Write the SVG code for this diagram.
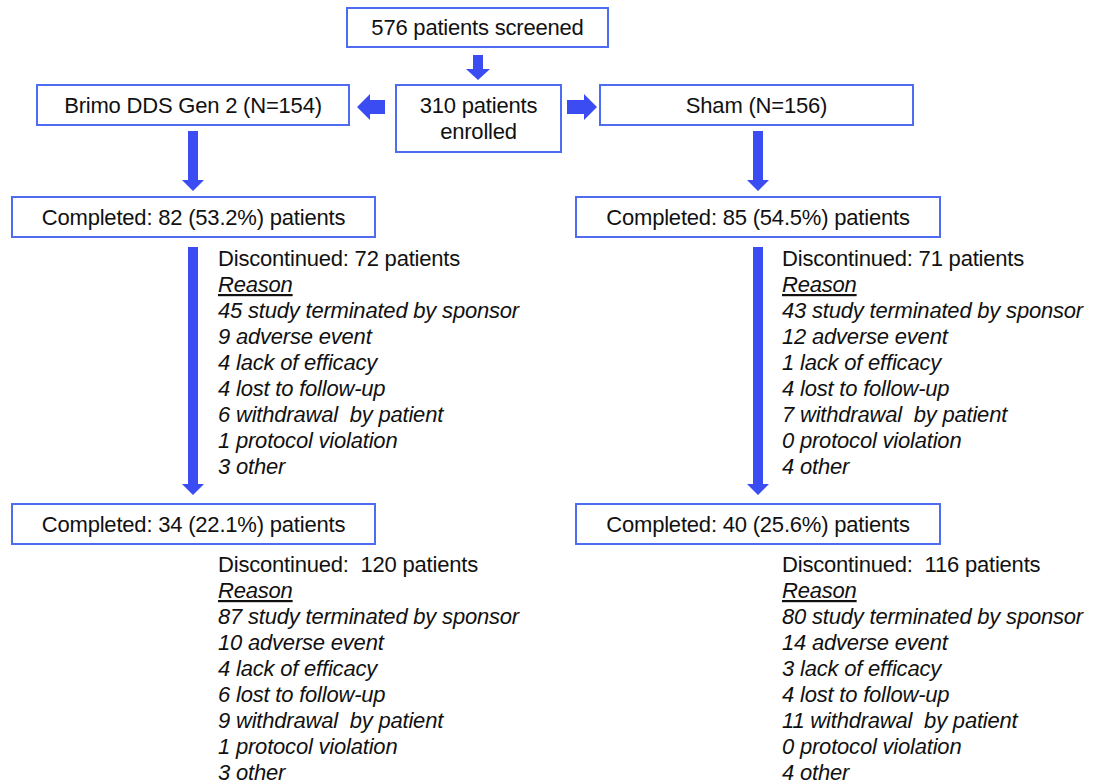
<svg xmlns="http://www.w3.org/2000/svg" width="1105" height="783" viewBox="0 0 1105 783">
<style>
.box{fill:#fff;stroke:#4d6cf2;stroke-width:2}
.t{font-family:"Liberation Sans",Arial,sans-serif;font-size:22px;letter-spacing:-0.2px;fill:#111}
.c{text-anchor:middle}
.i{font-style:italic}
.u{text-decoration:underline}
.arr{fill:#3b4cf3}
</style>
<rect width="1105" height="783" fill="#fff"/>
<g id="connectors">
<path class="arr" d="M473,55 H483 V69 H490 L478,80 L466,69 H473 Z"/>
<path class="arr" d="M385,100 V114 H370 V120 L357,107 L370,94 V100 Z"/>
<path class="arr" d="M567,100 V114 H584 V120 L597,107 L584,94 V100 Z"/>
<path class="arr" d="M188,131 H198 V180 H204 L193,191 L182,180 H188 Z"/>
<path class="arr" d="M753,131 H763 V180 H769 L758,191 L747,180 H753 Z"/>
<path class="arr" d="M188,247 H198 V484 H204 L193,495 L182,484 H188 Z"/>
<path class="arr" d="M753,247 H763 V484 H769 L758,495 L747,484 H753 Z"/>
</g>
<g id="screened">
<rect class="box" x="347" y="8" width="261" height="39"/>
<text class="t c" x="477.5" y="35">576 patients screened</text>
</g>
<g id="brimo">
<rect class="box" x="37" y="85" width="312" height="40"/>
<text class="t c" x="193" y="113">Brimo DDS Gen 2 (N=154)</text>
</g>
<g id="enrolled">
<rect class="box" x="396" y="85" width="165" height="67"/>
<text class="t c" x="478.5" y="113">310 patients</text>
<text class="t c" x="478.5" y="139">enrolled</text>
</g>
<g id="sham">
<rect class="box" x="600" y="85" width="313" height="40"/>
<text class="t c" x="756.5" y="113">Sham (N=156)</text>
</g>
<g id="completed1-brimo">
<rect class="box" x="12" y="197" width="363" height="40"/>
<text class="t c" x="193.5" y="225">Completed: 82 (53.2%) patients</text>
</g>
<g id="completed1-sham">
<rect class="box" x="576" y="197" width="364" height="40"/>
<text class="t c" x="758" y="225">Completed: 85 (54.5%) patients</text>
</g>
<g id="discontinued1-brimo">
<text class="t" x="218" y="266">Discontinued: 72 patients</text>
<text class="t i u" x="218" y="292">Reason</text>
<text class="t i" x="218" y="318">45 study terminated by sponsor</text>
<text class="t i" x="218" y="344">9 adverse event</text>
<text class="t i" x="218" y="370">4 lack of efficacy</text>
<text class="t i" x="218" y="396">4 lost to follow-up</text>
<text class="t i" x="218" y="422" xml:space="preserve">6 withdrawal  by patient</text>
<text class="t i" x="218" y="448">1 protocol violation</text>
<text class="t i" x="218" y="474">3 other</text>
</g>
<g id="discontinued1-sham">
<text class="t" x="782" y="266">Discontinued: 71 patients</text>
<text class="t i u" x="782" y="292">Reason</text>
<text class="t i" x="782" y="318">43 study terminated by sponsor</text>
<text class="t i" x="782" y="344">12 adverse event</text>
<text class="t i" x="782" y="370">1 lack of efficacy</text>
<text class="t i" x="782" y="396">4 lost to follow-up</text>
<text class="t i" x="782" y="422" xml:space="preserve">7 withdrawal  by patient</text>
<text class="t i" x="782" y="448">0 protocol violation</text>
<text class="t i" x="782" y="474">4 other</text>
</g>
<g id="completed2-brimo">
<rect class="box" x="12" y="504" width="363" height="40"/>
<text class="t c" x="193.5" y="532">Completed: 34 (22.1%) patients</text>
</g>
<g id="completed2-sham">
<rect class="box" x="576" y="504" width="364" height="40"/>
<text class="t c" x="758" y="532">Completed: 40 (25.6%) patients</text>
</g>
<g id="discontinued2-brimo">
<text class="t" x="218" y="572" xml:space="preserve">Discontinued:  120 patients</text>
<text class="t i u" x="218" y="598">Reason</text>
<text class="t i" x="218" y="624">87 study terminated by sponsor</text>
<text class="t i" x="218" y="650">10 adverse event</text>
<text class="t i" x="218" y="676">4 lack of efficacy</text>
<text class="t i" x="218" y="702">6 lost to follow-up</text>
<text class="t i" x="218" y="728" xml:space="preserve">9 withdrawal  by patient</text>
<text class="t i" x="218" y="754">1 protocol violation</text>
<text class="t i" x="218" y="780">3 other</text>
</g>
<g id="discontinued2-sham">
<text class="t" x="782" y="572" xml:space="preserve">Discontinued:  116 patients</text>
<text class="t i u" x="782" y="598">Reason</text>
<text class="t i" x="782" y="624">80 study terminated by sponsor</text>
<text class="t i" x="782" y="650">14 adverse event</text>
<text class="t i" x="782" y="676">3 lack of efficacy</text>
<text class="t i" x="782" y="702">4 lost to follow-up</text>
<text class="t i" x="782" y="728" xml:space="preserve">11 withdrawal  by patient</text>
<text class="t i" x="782" y="754">0 protocol violation</text>
<text class="t i" x="782" y="780">4 other</text>
</g>
</svg>
